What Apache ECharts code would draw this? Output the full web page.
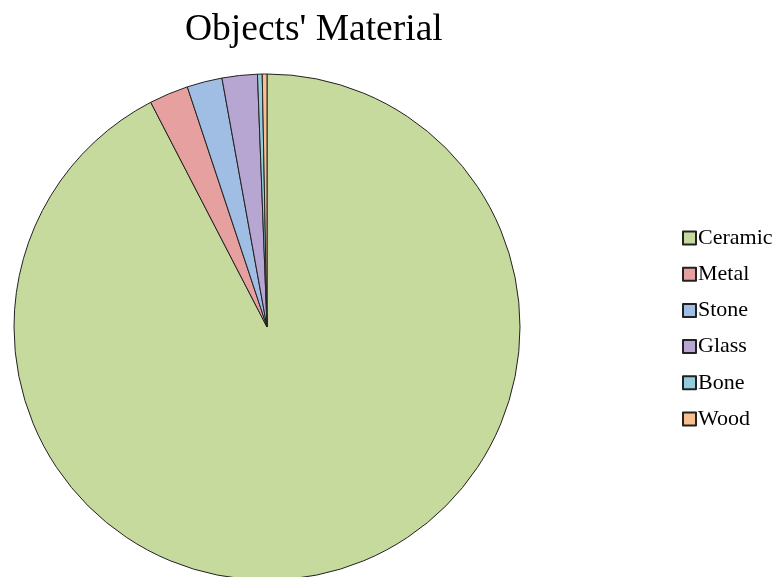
<!DOCTYPE html>
<html>
<head>
<meta charset="utf-8">
<script src="https://cdn.jsdelivr.net/npm/echarts@6/dist/echarts.min.js"></script>
<style>html,body{margin:0;padding:0;background:#fff;}#c{width:778px;height:577px;}</style>
</head>
<body>
<div id="c"></div>
<script>
var categories = ['Ceramic', 'Metal', 'Stone', 'Glass', 'Bone', 'Wood'];
var values = [92.4, 2.5, 2.25, 2.25, 0.3, 0.3];
var colors = ['#C6DA9D', '#E6A09F', '#A0BDE3', '#B7A6D2', '#93CDDD', '#F9BF8F'];

var chart = echarts.init(document.getElementById('c'), null, {renderer: 'canvas'});
var data = categories.map(function (n, i) { return {name: n, value: values[i]}; });
chart.setOption({
  animation: false,
  backgroundColor: '#ffffff',
  color: colors,
  title: {
    text: "Objects' Material",
    left: 180,
    top: 6,
    textStyle: {fontFamily: 'Liberation Serif', fontSize: 37.5, fontWeight: 'normal', color: '#000'}
  },
  legend: {
    orient: 'vertical',
    left: 677,
    top: 222,
    itemWidth: 13,
    itemHeight: 13,
    itemGap: 14.2,
    icon: 'rect',
    data: categories,
    textStyle: {fontFamily: 'Liberation Serif', fontSize: 22, color: '#000', lineHeight: 22, padding: [0, 0, 0, -3]}
  },
  series: [{
    type: 'pie',
    center: [267, 327],
    radius: 253,
    startAngle: 90,
    clockwise: true,
    label: {show: false},
    labelLine: {show: false},
    itemStyle: {borderColor: '#222', borderWidth: 1},
    emphasis: {disabled: true},
    data: data
  }]
});
</script>
</body>
</html>
